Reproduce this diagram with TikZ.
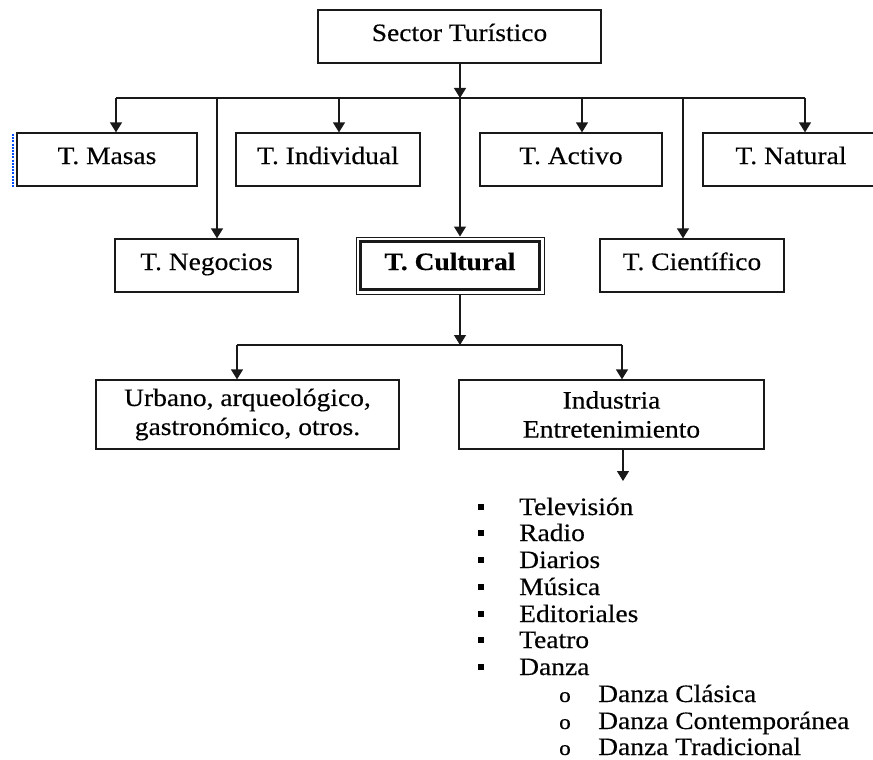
\documentclass[tikz,border=0pt]{standalone}
\usepackage{fontspec}
\setmainfont{Liberation Serif}[FakeStretch=1.1, FakeBold=0.35]
\usetikzlibrary{arrows.meta}

\tikzset{
  box/.style={draw=black!90, line width=1.3pt, inner sep=0pt, align=center,
              font=\fontsize{25}{29}\selectfont},
  onebox/.style={box, minimum height=53pt, text height=18pt, text depth=9pt},
  twobox/.style={box, minimum height=69pt},
  link/.style={draw=black!90, line width=1.3pt},
  arr/.style={link, -{Triangle[width=12pt,length=10pt]}},
  item/.style={anchor=base west, inner sep=0pt, font=\fontsize{25}{29}\selectfont},
}

\begin{document}
\begin{tikzpicture}[x=1pt,y=-1pt]
\useasboundingbox (0,0) rectangle (873,760);
\begin{scope}
\clip (0,0) rectangle (873,760);

% top level
\node[onebox, minimum width=283pt] (sector) at (459.5,36.5) {Sector Turístico};

% first row of categories
\node[onebox, minimum width=180pt] (masas)      at (107,159.5) {T. Masas};
\node[onebox, minimum width=184pt] (individual) at (328,159.5) {T. Individual};
\node[onebox, minimum width=182pt] (activo)     at (571,159.5) {T. Activo};
\node[onebox, minimum width=176pt] (natural)    at (791,159.5) {T. Natural};

% second row of categories
\node[onebox, minimum width=183pt] (negocios)   at (206.5,265.5) {T. Negocios};
\node[onebox, minimum width=188pt, minimum height=57pt, line width=1pt,
      font=\fontsize{25}{29}\selectfont\bfseries] (cultural) at (450,265.5) {T. Cultural};
\draw[line width=2.2pt, black!90]
  ([shift={(5pt,-5pt)}]cultural.north west) rectangle ([shift={(-5pt,5pt)}]cultural.south east);
\node[onebox, minimum width=184pt] (cientifico) at (692,265.5) {T. Científico};

% cultural branches
\node[twobox, minimum width=303pt] (urbano)    at (247.5,414.5) {Urbano, arqueológico,\\gastronómico, otros.};
\node[twobox, minimum width=305pt] (industria) at (611.5,414.5) {Industria\\Entretenimiento};

% dotted mark at the left of the first box
\draw[blue!70!cyan, line width=2pt, dash pattern=on 2pt off 1.2pt] (13,134) -- (13,187);

% distribution bar below the sector box
\coordinate (dMas) at (116,98);
\coordinate (dNeg) at (217,98);
\coordinate (dInd) at (339,98);
\coordinate (hub)  at (460,98);
\coordinate (dAct) at (582,98);
\coordinate (dCie) at (683,98);
\coordinate (dNat) at (805,98);

\draw[arr] (sector.south -| hub) -- (hub);
\draw[link] (dMas) -- (dNat);
\draw[arr] (dMas) -- (dMas |- masas.north);
\draw[arr] (dInd) -- (dInd |- individual.north);
\draw[arr] (dAct) -- (dAct |- activo.north);
\draw[arr] (dNat) -- (dNat |- natural.north);
\draw[arr] (dNeg) -- (dNeg |- negocios.north);
\draw[arr] (hub)  -- (hub |- cultural.north);
\draw[arr] (dCie) -- (dCie |- cientifico.north);

% bar below the cultural box
\coordinate (hubB) at (460,345);
\coordinate (dUrb) at (237,345);
\coordinate (dEnt) at (622,345);
\draw[arr] (cultural.south -| hubB) -- (hubB);
\draw[link] (dUrb) -- (dEnt);
\draw[arr] (dUrb) -- (dUrb |- urbano.north);
\draw[arr] (dEnt) -- (dEnt |- industria.north);

% arrow down to the list
\coordinate (listTop) at (623,481);
\draw[arr] (industria.south -| listTop) -- (listTop);

% list of entertainment industries (baselines)
\foreach \y/\t [count=\i] in {515/Televisión, 541/Radio, 568/Diarios, 595/Música,
                              622/Editoriales, 648/Teatro, 675/Danza} {
  \fill (478,\y-11) rectangle (484,\y-5);
  \node[item] (li\i) at (519,\y) {\t};
}
\foreach \y/\t [count=\i] in {702/Danza Clásica, 729/Danza Contemporánea, 755/Danza Tradicional} {
  \node[item, font=\fontsize{21}{24}\selectfont] (sb\i) at (559,\y) {o};
  \node[item] (si\i) at (598,\y) {\t};
}
\end{scope}
\end{tikzpicture}
\end{document}
